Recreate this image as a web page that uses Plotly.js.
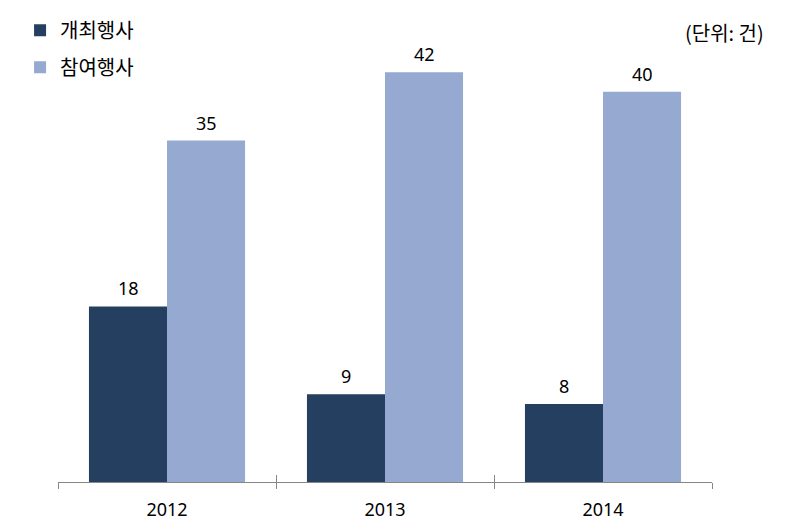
<!DOCTYPE html>
<html>
<head>
<meta charset="utf-8">
<script src="https://cdn.plot.ly/plotly-3.0.1.min.js"></script>
<style>html,body{margin:0;padding:0;background:#fff;}#chart{width:792px;height:525px;}</style>
</head>
<body>
<div id="chart"></div>
<script>
const years = ['2012', '2013', '2014'];
const hosted = [18, 9, 8];
const participated = [35, 42, 40];
const seriesNames = ['개최행사', '참여행사'];
const unitLabel = '(단위: 건)';

const colors = ['#243F60', '#95A9D1'];
const numFont = {family: 'Noto Sans, Noto Sans CJK KR, sans-serif', size: 18, color: '#000'};
const krFont = {family: 'Noto Sans CJK KR, sans-serif', size: 20, color: '#000'};
const xRange = [-0.5, years.length - 0.5];
const idx = years.map((_, i) => i);
const boundaries = years.map((_, i) => i - 0.5).concat([years.length - 0.5]);

const traces = [
  {type: 'bar', name: seriesNames[0], x: years, y: hosted, marker: {color: colors[0]}, legendgroup: 'a', hoverinfo: 'none'},
  {type: 'bar', name: seriesNames[1], x: years, y: participated, marker: {color: colors[1]}, legendgroup: 'b', hoverinfo: 'none'},
  {type: 'scatter', mode: 'markers', x: idx, y: idx.map(() => 0), marker: {opacity: 0}, xaxis: 'x2', yaxis: 'y', showlegend: false, hoverinfo: 'none'}
];

const annotations = [];
[hosted, participated].forEach((vals, si) => {
  vals.forEach((v, i) => {
    annotations.push({x: i, y: v, xref: 'x2', yref: 'y', text: String(v), showarrow: false,
      xshift: si === 0 ? -39 : 39, yshift: 18, yanchor: 'middle', font: numFont});
  });
});
annotations.push({xref: 'paper', yref: 'paper', x: 1.083, y: 1.023, xanchor: 'right', yanchor: 'middle',
  text: unitLabel, showarrow: false, font: krFont});

const layout = {
  width: 792, height: 525,
  margin: {l: 58, r: 80, t: 42, b: 43},
  paper_bgcolor: '#fff', plot_bgcolor: '#fff',
  barmode: 'group', bargap: 0.284, bargroupgap: 0,
  showlegend: true,
  legend: {x: -0.058, y: 1.071, xanchor: 'left', yanchor: 'top', font: krFont, traceorder: 'grouped', tracegroupgap: 8, bgcolor: 'rgba(0,0,0,0)'},
  xaxis: {type: 'category', categoryarray: years, categoryorder: 'array', range: xRange, showline: true, linecolor: '#868686', linewidth: 1, ticks: 'outside', tickson: 'boundaries', ticklen: 6, tickcolor: '#868686', tickwidth: 1, tickfont: numFont, showgrid: false, zeroline: false, ticklabelstandoff: 11},
  xaxis2: {type: 'linear', range: xRange, overlaying: 'x', anchor: 'y', side: 'bottom', showline: false, ticks: 'inside', tickmode: 'array', tickvals: boundaries, ticklen: 7, tickcolor: '#868686', tickwidth: 1, showticklabels: false, showgrid: false, zeroline: false},
  yaxis: {range: [0, 45], visible: false, showgrid: false, zeroline: false},
  annotations: annotations
};

Plotly.newPlot('chart', traces, layout, {staticPlot: true, displayModeBar: false});
</script>
</body>
</html>
